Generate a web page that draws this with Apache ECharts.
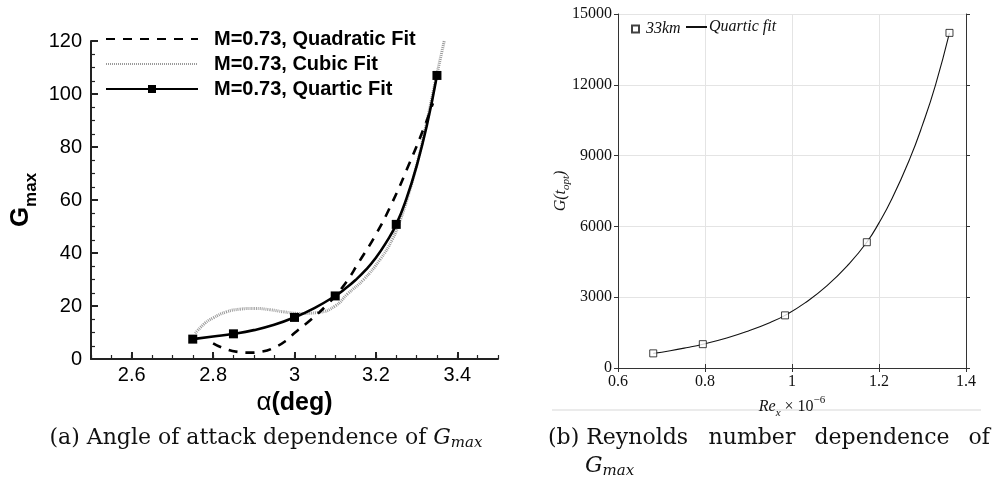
<!DOCTYPE html>
<html>
<head>
<meta charset="utf-8">
<script src="https://cdn.jsdelivr.net/npm/echarts@6/dist/echarts.min.js"></script>
<style>
  html, body { margin: 0; padding: 0; background: #fff; }
  #chart { width: 994px; height: 484px; }
</style>
</head>
<body>
<div id="chart"></div>
<script>
// ---------- (a) G_max versus angle of attack, M = 0.73 ----------
const alphaTicks = [2.6, 2.8, 3.0, 3.2, 3.4];

// quadratic fit (dashed)
const quadAlpha = [2.80, 2.83, 2.86, 2.89, 2.92, 2.95, 2.98, 3.00, 3.04, 3.08, 3.12, 3.16, 3.20, 3.24, 3.28, 3.32, 3.34];
const quadG     = [5.9, 3.8, 2.7, 2.4, 2.8, 4.3, 7.0, 9.8, 14.8, 20.5, 27.5, 37.0, 47.0, 59.0, 73.0, 88.0, 96.5];

// cubic fit (grey dotted)
const cubAlpha = [2.756, 2.78, 2.80, 2.833, 2.866, 2.90, 2.94, 2.973, 3.013, 3.06, 3.10, 3.13, 3.17, 3.21, 3.24, 3.26, 3.28, 3.30, 3.32, 3.345, 3.368];
const cubG     = [9.7, 13.5, 15.5, 17.8, 18.8, 19.1, 18.6, 17.8, 17.2, 17.6, 20.0, 24.5, 30.0, 37.5, 45.0, 52.5, 62.0, 73.0, 86.0, 104.0, 120.0];

// quartic fit (solid) and the computed points it passes through
const quartAlpha = [2.75, 2.80, 2.85, 2.90, 2.95, 3.00, 3.05, 3.10, 3.125, 3.15, 3.175, 3.20, 3.225, 3.25, 3.275, 3.30, 3.325, 3.35];
const quartG     = [7.5, 8.5, 9.5, 10.9, 12.9, 15.7, 19.3, 23.8, 26.6, 29.8, 33.6, 38.2, 43.9, 50.8, 60.5, 72.8, 88.0, 107.0];
const ptAlpha = [2.75, 2.85, 3.00, 3.10, 3.25, 3.35];
const ptG     = [7.5, 9.5, 15.7, 23.8, 50.8, 107.0];

// ---------- (b) G(t_opt) versus Reynolds number, 33 km ----------
const reTicks = [0.6, 0.8, 1.0, 1.2, 1.4];
const rePts = [0.681, 0.795, 0.984, 1.172, 1.362];
const gOpt  = [620, 1010, 2230, 5330, 14200];
const reFit = [0.681, 0.72, 0.76, 0.795, 0.85, 0.90, 0.95, 0.984, 1.03, 1.08, 1.13, 1.172, 1.20, 1.23, 1.27, 1.30, 1.33, 1.362];
const gFit  = [620, 730, 870, 1010, 1270, 1570, 1930, 2230, 2760, 3480, 4390, 5330, 6150, 7180, 8830, 10300, 12000, 14200];

const zip = (xs, ys) => xs.map((x, i) => [x, ys[i]]);
const quartData = quartAlpha.map((a, i) => {
  const k = ptAlpha.indexOf(a);
  return { value: [a, k >= 0 ? ptG[k] : quartG[i]], symbol: k >= 0 ? 'rect' : 'none' };
});

const SANS = 'Liberation Sans';
const SERIF = 'Liberation Serif';
const CAP = '"DejaVu Serif"';
const HIDE_MARK = { opacity: 0 };

const chart = echarts.init(document.getElementById('chart'), null, { renderer: 'canvas' });

const capRich = {
  g: { font: 'italic 22px ' + CAP, fill: '#111', lineHeight: 26 },
  s: { font: 'italic 15px ' + CAP, fill: '#111', verticalAlign: 'bottom', lineHeight: 15 }
};
const capWord = (text, x, y, align) => ({
  type: 'text', x, y, silent: true,
  style: { text, font: '22px ' + CAP, fill: '#111', verticalAlign: 'middle', align: align || 'left', rich: capRich }
});

chart.setOption({
  backgroundColor: '#fff',
  animation: false,
  grid: [
    { left: 91, top: 41, width: 407, height: 318 },
    { left: 618, top: 14, width: 348, height: 354 }
  ],
  legend: [
    {
      orient: 'vertical', left: 105, top: 29, padding: 0,
      itemWidth: 92, itemHeight: 10, itemGap: 5,
      selectedMode: false,
      textStyle: { fontFamily: SANS, fontWeight: 'bold', fontSize: 20, lineHeight: 20, color: '#000', padding: [0, 0, 0, 11] },
      data: [
        { name: 'M=0.73, Quadratic Fit', itemStyle: HIDE_MARK },
        { name: 'M=0.73, Cubic Fit', itemStyle: HIDE_MARK },
        { name: 'M=0.73, Quartic Fit' }
      ]
    },
    {
      left: 631, top: 21, padding: 0, itemWidth: 7, itemHeight: 7, selectedMode: false,
      textStyle: { fontFamily: SERIF, fontStyle: 'italic', fontSize: 16, color: '#111', padding: [0, 0, 0, 2] },
      data: ['33km']
    },
    {
      left: 685, top: 19, padding: 0, itemWidth: 21, itemHeight: 10, selectedMode: false,
      textStyle: { fontFamily: SERIF, fontStyle: 'italic', fontSize: 16, color: '#111', padding: [0, 0, 0, -3] },
      data: [{ name: 'Quartic fit', itemStyle: HIDE_MARK }]
    }
  ],
  xAxis: [
    {
      gridIndex: 0, type: 'value', min: 2.5, max: 3.5,
      axisLine: { show: true, lineStyle: { color: '#222', width: 2 } },
      axisTick: { show: true, inside: true, length: 7, customValues: alphaTicks, lineStyle: { color: '#222', width: 2 } },
      axisLabel: { customValues: alphaTicks, fontFamily: SANS, fontSize: 20, color: '#000', margin: 6,
        formatter: v => String(Math.round(v * 10) / 10) },
      splitLine: { show: false },
      name: '{a|α}{b|(deg)}', nameLocation: 'middle', nameGap: 22,
      nameTextStyle: { rich: {
        a: { fontFamily: SANS, fontSize: 26, color: '#000' },
        b: { fontFamily: SANS, fontSize: 25, fontWeight: 'bold', color: '#000' }
      } }
    },
    {
      gridIndex: 0, type: 'value', min: 2.5, max: 3.5, interval: 0.05, position: 'bottom',
      axisLine: { show: false },
      axisTick: { show: true, inside: true, length: 4, lineStyle: { color: '#222', width: 1.2 } },
      axisLabel: { show: false },
      splitLine: { show: false }
    },
    {
      gridIndex: 1, type: 'value', min: 0.6, max: 1.4, interval: 0.2, position: 'bottom',
      axisLine: { show: true, lineStyle: { color: '#333', width: 1 } },
      axisTick: { show: true, length: 4, lineStyle: { color: '#333' } },
      axisLabel: { fontFamily: SERIF, fontSize: 16, color: '#111', margin: 6,
        formatter: v => String(Math.round(v * 10) / 10) },
      splitLine: { show: true, lineStyle: { color: '#e4e4e4', width: 1 } },
      name: '{i|Re}{s|x}{n| × 10}{p|−6}', nameLocation: 'middle', nameGap: 20,
      nameTextStyle: { rich: {
        i: { fontFamily: SERIF, fontStyle: 'italic', fontSize: 16, color: '#111', lineHeight: 24 },
        s: { fontFamily: SERIF, fontStyle: 'italic', fontSize: 11, color: '#111', verticalAlign: 'bottom', lineHeight: 11 },
        n: { fontFamily: SERIF, fontSize: 16, color: '#111', lineHeight: 24 },
        p: { fontFamily: SERIF, fontSize: 11, color: '#111', verticalAlign: 'top', lineHeight: 11 }
      } }
    },
    {
      gridIndex: 1, type: 'value', min: 0.6, max: 1.4, interval: 0.2, position: 'top',
      axisLine: { show: true, lineStyle: { color: '#333', width: 1 } },
      axisTick: { show: true, length: 4, lineStyle: { color: '#333' } },
      axisLabel: { show: false },
      splitLine: { show: false }
    }
  ],
  yAxis: [
    {
      gridIndex: 0, type: 'value', min: 0, max: 120, interval: 20,
      axisLine: { show: true, lineStyle: { color: '#222', width: 2 } },
      axisTick: { show: true, inside: true, length: 7, lineStyle: { color: '#222', width: 2 } },
      minorTick: { show: true, splitNumber: 4, length: 4, lineStyle: { color: '#222', width: 1.2 } },
      axisLabel: { fontFamily: SANS, fontSize: 20, color: '#000', margin: 9 },
      splitLine: { show: false },
      name: '{g|G}{s|max}', nameLocation: 'middle', nameRotate: 90, nameGap: 51,
      nameTextStyle: { rich: {
        g: { fontFamily: SANS, fontSize: 26, fontWeight: 'bold', color: '#000', lineHeight: 38 },
        s: { fontFamily: SANS, fontSize: 17, fontWeight: 'bold', color: '#000', verticalAlign: 'bottom', lineHeight: 17 }
      } }
    },
    {
      gridIndex: 1, type: 'value', min: 0, max: 15000, interval: 3000, position: 'left',
      axisLine: { show: true, lineStyle: { color: '#333', width: 1 } },
      axisTick: { show: true, length: 4, lineStyle: { color: '#333' } },
      axisLabel: { fontFamily: SERIF, fontSize: 16, color: '#111', margin: 6, formatter: v => String(v) },
      splitLine: { show: true, lineStyle: { color: '#e4e4e4', width: 1 } },
      name: '{i|G(t}{s|opt}{i|)}', nameLocation: 'middle', nameRotate: 90, nameGap: 46, nameMoveOverlap: false,
      nameTextStyle: { rich: {
        i: { fontFamily: SERIF, fontStyle: 'italic', fontSize: 16, color: '#111', lineHeight: 22 },
        s: { fontFamily: SERIF, fontStyle: 'italic', fontSize: 11, color: '#111', verticalAlign: 'bottom', lineHeight: 11 }
      } }
    },
    {
      gridIndex: 1, type: 'value', min: 0, max: 15000, interval: 3000, position: 'right',
      axisLine: { show: true, lineStyle: { color: '#333', width: 1 } },
      axisTick: { show: true, length: 4, lineStyle: { color: '#333' } },
      axisLabel: { show: false },
      splitLine: { show: false }
    }
  ],
  series: [
    {
      name: 'M=0.73, Quadratic Fit', type: 'line', xAxisIndex: 0, yAxisIndex: 0,
      data: zip(quadAlpha, quadG), smooth: true, symbol: 'none', z: 3,
      lineStyle: { color: '#000', width: 2.6, type: [9, 8] }, itemStyle: { color: '#000' }
    },
    {
      name: 'M=0.73, Cubic Fit', type: 'line', xAxisIndex: 0, yAxisIndex: 0,
      data: zip(cubAlpha, cubG), smooth: true, symbol: 'none', z: 2,
      lineStyle: { color: '#9a9a9a', width: 3, type: [1, 1] }, itemStyle: { color: '#9a9a9a' }
    },
    {
      name: 'M=0.73, Quartic Fit', type: 'line', xAxisIndex: 0, yAxisIndex: 0,
      data: quartData, smooth: true, symbol: 'rect', symbolSize: 9, showSymbol: true, z: 4,
      lineStyle: { color: '#000', width: 2.6 }, itemStyle: { color: '#000' }
    },
    {
      name: 'Quartic fit', type: 'line', xAxisIndex: 2, yAxisIndex: 1,
      data: zip(reFit, gFit), smooth: true, symbol: 'none', z: 3,
      lineStyle: { color: '#111', width: 1.1 }, itemStyle: { color: '#111' }
    },
    {
      name: '33km', type: 'scatter', xAxisIndex: 2, yAxisIndex: 1,
      data: zip(rePts, gOpt), symbol: 'rect', symbolSize: 7, z: 4,
      itemStyle: { color: '#fff', borderColor: '#111', borderWidth: 1 }
    }
  ],
  graphic: [
    { type: 'rect', shape: { x: 552, y: 409, width: 429, height: 2 }, style: { fill: '#ebebeb' }, silent: true },
    capWord('(a) Angle of attack dependence of {g|G}{s|max}', 266, 438, 'center'),
    capWord('(b) Reynolds', 548, 438),
    capWord('number', 752, 438, 'center'),
    capWord('dependence', 882, 438, 'center'),
    capWord('of', 990, 438, 'right'),
    capWord('{g|G}{s|max}', 585, 466)
  ]
});
</script>
</body>
</html>
